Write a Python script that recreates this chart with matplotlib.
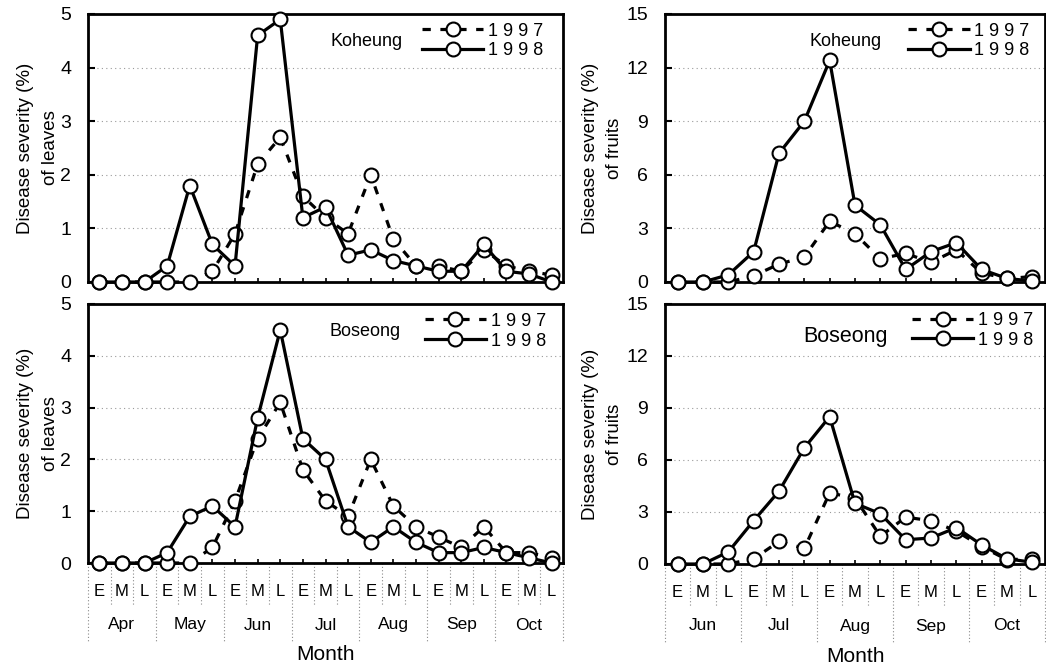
import matplotlib
matplotlib.use("Agg")
import matplotlib.pyplot as plt
import matplotlib.transforms as mtransforms
import numpy as np

plt.rcParams['font.family'] = ['Liberation Sans', 'DejaVu Sans']

# ---------------- data ----------------
months_leaf = ['Apr', 'May', 'Jun', 'Jul', 'Aug', 'Sep', 'Oct']
months_fruit = ['Jun', 'Jul', 'Aug', 'Sep', 'Oct']
periods = ['E', 'M', 'L']

leaf_koheung_1997 = [0, 0, 0, 0, 0, 0.2, 0.9, 2.2, 2.7, 1.6, 1.2, 0.9, 2.0, 0.8, 0.3, 0.3, 0.2, 0.6, 0.3, 0.2, 0.13]
leaf_koheung_1998 = [0, 0, 0, 0.3, 1.8, 0.7, 0.3, 4.6, 4.9, 1.2, 1.4, 0.5, 0.6, 0.4, 0.3, 0.2, 0.2, 0.7, 0.2, 0.15, 0.0]
leaf_boseong_1997 = [0, 0, 0, 0, 0, 0.3, 1.2, 2.4, 3.1, 1.8, 1.2, 0.9, 2.0, 1.1, 0.7, 0.5, 0.3, 0.7, 0.2, 0.2, 0.1]
leaf_boseong_1998 = [0, 0, 0, 0.2, 0.9, 1.1, 0.7, 2.8, 4.5, 2.4, 2.0, 0.7, 0.4, 0.7, 0.4, 0.2, 0.2, 0.3, 0.2, 0.1, 0.0]

fruit_koheung_1997 = [0, 0, 0, 0.35, 1.0, 1.4, 3.4, 2.7, 1.3, 1.6, 1.1, 1.8, 0.5, 0.2, 0.3]
fruit_koheung_1998 = [0, 0, 0.4, 1.7, 7.2, 9.0, 12.4, 4.3, 3.2, 0.7, 1.7, 2.2, 0.7, 0.2, 0.05]
fruit_boseong_1997 = [0, 0, 0, 0.3, 1.3, 0.9, 4.1, 3.8, 1.6, 2.7, 2.5, 1.9, 1.0, 0.25, 0.3]
fruit_boseong_1998 = [0, 0, 0.7, 2.5, 4.2, 6.7, 8.5, 3.5, 2.9, 1.4, 1.5, 2.1, 1.1, 0.3, 0.1]

leaf_yticks = [0, 1, 2, 3, 4, 5]
fruit_yticks = [0, 3, 6, 9, 12, 15]
year_labels = ['1 9 9 7', '1 9 9 8']

W, H = 1046, 666
fig = plt.figure(figsize=(W / 100, H / 100), dpi=100)


def px_axes(x0, y0, x1, y1):
    return fig.add_axes([x0 / W, 1 - y1 / H, (x1 - x0) / W, (y1 - y0) / H])


ax_tl = px_axes(88, 14, 563, 282)
ax_tr = px_axes(665, 14, 1045, 282)
ax_bl = px_axes(88, 304, 563, 563)
ax_br = px_axes(665, 304, 1045, 564)


def draw_panel(ax, months, y97, y98, yticks, ylabel, site, site_pos, site_fs,
               leg_anchor, label_x, bottom):
    n = len(months) * 3
    x = np.arange(n)
    l97, = ax.plot(x, y97, color='black', lw=2.3, linestyle=(0, (2.6, 3.0)),
                   marker='o', ms=10, mfc='white', mec='black', mew=1.5,
                   clip_on=False, zorder=3, label=year_labels[0])
    l98, = ax.plot(x, y98, color='black', lw=2.3, linestyle='-',
                   marker='o', ms=10, mfc='white', mec='black', mew=1.5,
                   clip_on=False, zorder=4, label=year_labels[1])
    ax.set_xlim(-0.5, n - 0.5)
    ax.set_ylim(yticks[0], yticks[-1])
    ax.set_yticks(yticks)
    ax.set_yticklabels([str(t) for t in yticks], fontsize=14)
    ax.set_xticks(x)
    for s in ax.spines.values():
        s.set_linewidth(2.0)
    ax.tick_params(axis='y', direction='in', length=5, width=1.5, pad=12,
                   right=False)
    ax.tick_params(axis='x', direction='in', length=3, width=1.2, top=False)
    ax.yaxis.grid(True, linestyle=(0, (1, 3)), color='#9a9a9a', lw=0.8)
    ax.set_axisbelow(True)
    ax.set_ylabel(ylabel, fontsize=13.5, linespacing=1.55)
    ax.yaxis.set_label_coords(label_x, 0.5)
    ax.text(site_pos[0], site_pos[1], site, transform=ax.transAxes,
            ha='center', va='center', fontsize=site_fs)
    ax.legend(handles=[l97, l98], loc='upper left', bbox_to_anchor=leg_anchor,
              frameon=False, fontsize=13, handlelength=3.4, handletextpad=0.25,
              labelspacing=0.15, borderpad=0, borderaxespad=0, numpoints=1)
    if bottom:
        ax.set_xticklabels(periods * len(months), fontsize=12)
        ax.tick_params(axis='x', pad=15)
        blend = mtransforms.blended_transform_factory(ax.transData, ax.transAxes)
        hpx = ax.bbox.height
        for i, m in enumerate(months):
            ax.text(3 * i + 1, -62 / hpx, m, transform=blend, ha='center',
                    va='center', fontsize=12.5)
        xs = np.arange(-0.5, n, 1.0)
        for xv in xs:
            k = int(round(xv + 0.5))
            if k % 3 == 0:
                y_end = -80 / hpx
            else:
                y_end = -42 / hpx
            ax.plot([xv, xv], [0, y_end], transform=blend, clip_on=False,
                    color='#8a8a8a', lw=0.8, linestyle=(0, (1, 2)))
        ax.text(0.5, -92 / hpx, 'Month', transform=ax.transAxes, ha='center',
                va='center', fontsize=15)
    else:
        ax.set_xticklabels([])


draw_panel(ax_tl, months_leaf, leaf_koheung_1997, leaf_koheung_1998, leaf_yticks,
           'Disease severity (%)\nof leaves', 'Koheung', (0.587, 0.896), 13,
           (0.703, 0.968), -0.062, False)
draw_panel(ax_bl, months_leaf, leaf_boseong_1997, leaf_boseong_1998, leaf_yticks,
           'Disease severity (%)\nof leaves', 'Boseong', (0.583, 0.892), 13,
           (0.709, 0.966), -0.062, True)
draw_panel(ax_tr, months_fruit, fruit_koheung_1997, fruit_koheung_1998, fruit_yticks,
           'Disease severity (%)\nof fruits', 'Koheung', (0.476, 0.896), 13,
           (0.64, 0.968), -0.11, False)
draw_panel(ax_br, months_fruit, fruit_boseong_1997, fruit_boseong_1998, fruit_yticks,
           'Disease severity (%)\nof fruits', 'Boseong', (0.474, 0.876), 15.5,
           (0.65, 0.969), -0.11, True)

fig.savefig('out.png', dpi=100)
